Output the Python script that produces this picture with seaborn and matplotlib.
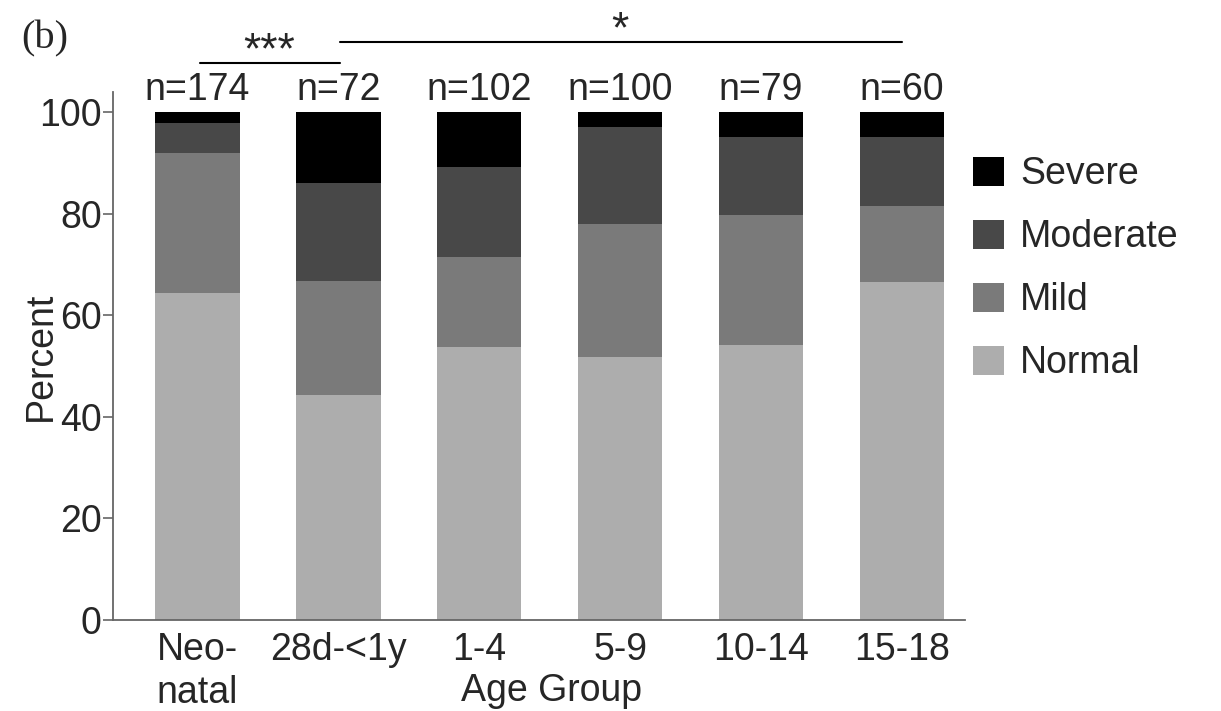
import matplotlib
matplotlib.use("Agg")
import matplotlib.pyplot as plt
import seaborn as sns
import pandas as pd
import numpy as np
from matplotlib.patches import Patch

categories = ["Neo-\nnatal", "28d-<1y", "1-4", "5-9", "10-14", "15-18"]
n_labels = ["n=174", "n=72", "n=102", "n=100", "n=79", "n=60"]
normal = [64.4, 44.3, 53.8, 51.8, 54.1, 66.6]
mild = [27.6, 22.4, 17.7, 26.2, 25.6, 15.0]
moderate = [5.8, 19.4, 17.7, 19.0, 15.3, 13.4]
severe = [2.2, 13.9, 10.8, 3.0, 5.0, 5.0]
levels = ["Severe", "Moderate", "Mild", "Normal"]
colors = {"Severe": "#000000", "Moderate": "#484848", "Mild": "#7a7a7a", "Normal": "#adadad"}

sns.set_style("white")
plt.rcParams["font.family"] = ["Liberation Sans", "DejaVu Sans"]

df = pd.DataFrame({"group": categories, "Normal": normal, "Mild": mild,
                   "Moderate": moderate, "Severe": severe})
df["c_Normal"] = df["Normal"]
df["c_Mild"] = df["c_Normal"] + df["Mild"]
df["c_Moderate"] = df["c_Mild"] + df["Moderate"]
df["c_Severe"] = df["c_Moderate"] + df["Severe"]

fig = plt.figure(figsize=(12.21, 7.11), dpi=100)
ax = fig.add_axes([0.0925, 0.128, 0.698, 0.743])

for lev in levels:
    sns.barplot(data=df, x="group", y="c_" + lev, color=colors[lev], width=0.6,
                linewidth=0, saturation=1, ax=ax, order=categories)

ax.set_xlim(-0.6, 5.45)
ax.set_ylim(0, 104)
ax.set_yticks([0, 20, 40, 60, 80, 100])
ax.tick_params(axis="y", labelsize=27, length=7, width=1.2, color="#666666", pad=1, left=True)
ax.tick_params(axis="x", labelsize=27, length=0, pad=9)
for lab in ax.get_xticklabels():
    lab.set_linespacing(1.24)
for s in ["top", "right"]:
    ax.spines[s].set_visible(False)
for s in ["left", "bottom"]:
    ax.spines[s].set_color("#666666")
    ax.spines[s].set_linewidth(1.3)

ax.set_ylabel("Percent", fontsize=27)
ax.yaxis.set_label_coords(-0.064, 0.5)
ax.set_xlabel("Age Group", fontsize=27)
ax.xaxis.set_label_coords(0.515, -0.1)

for i, t in enumerate(n_labels):
    ax.text(i, 104.4, t, ha="center", va="center", fontsize=27, clip_on=False)

# significance bars
ax.plot([0.02, 1.01], [109.6, 109.6], color="black", lw=1.5, clip_on=False)
ax.text(0.51, 109.6, "***", ha="center", va="baseline", fontsize=32, clip_on=False)
ax.plot([1.01, 5.0], [113.7, 113.7], color="black", lw=1.5, clip_on=False)
ax.text(3.0, 113.7, "*", ha="center", va="baseline", fontsize=32, clip_on=False)

handles = [Patch(facecolor=colors[l], edgecolor="none") for l in levels]
fig.legend(handles, levels, loc="upper left", bbox_to_anchor=(0.7967, 0.780),
           frameon=False, fontsize=27, handlelength=0.83, handleheight=0.8,
           handletextpad=0.43, labelspacing=0.72, borderpad=0, borderaxespad=0)

fig.text(0.017, 0.945, "(b)", fontsize=29, family=["Liberation Serif", "DejaVu Serif"],
         ha="left", va="center")

fig.savefig("out.png", dpi=100)
